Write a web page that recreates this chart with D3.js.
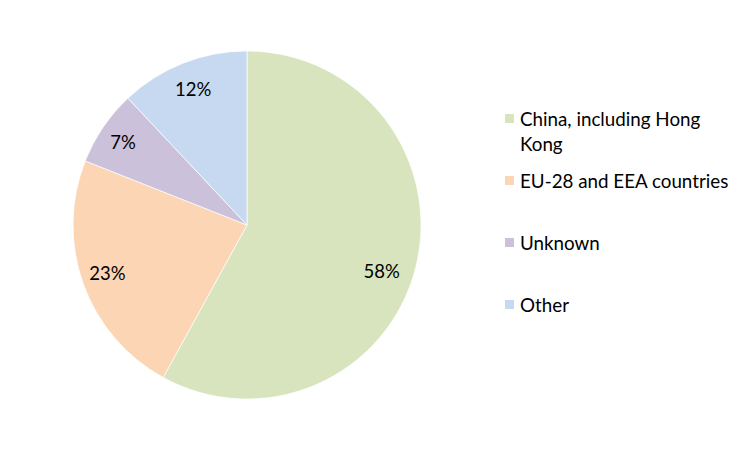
<!DOCTYPE html>
<html><head><meta charset="utf-8">
<script src="https://cdn.jsdelivr.net/npm/d3@7"></script>
<style>body{margin:0;background:#fff}text{font-family:Lato,"Open Sans",sans-serif}</style>
</head><body>
<svg id="c" width="752" height="450"></svg>
<script>
const categories = ["China, including Hong Kong", "EU-28 and EEA countries", "Unknown", "Other"];
const values = [58, 23, 7, 12];
const labels = ["58%", "23%", "7%", "12%"];
const colors = ["#D7E4BD", "#FCD5B5", "#CCC1DA", "#C6D9F1"];
// small label nudges (best-fit placement)
const labelNudge = [[-7, 10], [-2, -1], [-3, 0], [0, 0]];

const svg = d3.select("#c");
const cx = 247, cy = 225, r = 174;
const g = svg.append("g").attr("transform", `translate(${cx},${cy})`);
const pie = d3.pie().sort(null).value(d => d);
const arcs = pie(values);
const arc = d3.arc().innerRadius(0).outerRadius(r);
const labelArc = d3.arc().innerRadius(r*0.84).outerRadius(r*0.84);
g.selectAll("path").data(arcs).join("path")
  .attr("d", arc).attr("fill", (d,i) => colors[i])
  .attr("stroke", "#fff").attr("stroke-width", 0.7);
g.selectAll("text").data(arcs).join("text")
  .attr("transform", (d,i) => { const c = labelArc.centroid(d); return `translate(${c[0]+labelNudge[i][0]},${c[1]+labelNudge[i][1]})`; })
  .attr("text-anchor", "middle").attr("dy", "0.35em")
  .attr("font-size", 18.5).attr("fill", "#000")
  .text((d,i) => labels[i]);

const legendY = [119, 181, 243, 305];
const lg = svg.append("g");
categories.forEach((c, i) => {
  lg.append("rect").attr("x", 505).attr("y", legendY[i] - 5).attr("width", 9).attr("height", 9).attr("fill", colors[i]);
  const t = lg.append("text").attr("x", 520).attr("y", legendY[i]).attr("dy", "0.35em").attr("font-size", 18.8).attr("fill", "#000");
  if (i === 0) {
    t.append("tspan").attr("x", 520).text("China, including Hong");
    t.append("tspan").attr("x", 520).attr("dy", 25).text("Kong");
  } else t.text(c);
});
</script>
</body></html>
